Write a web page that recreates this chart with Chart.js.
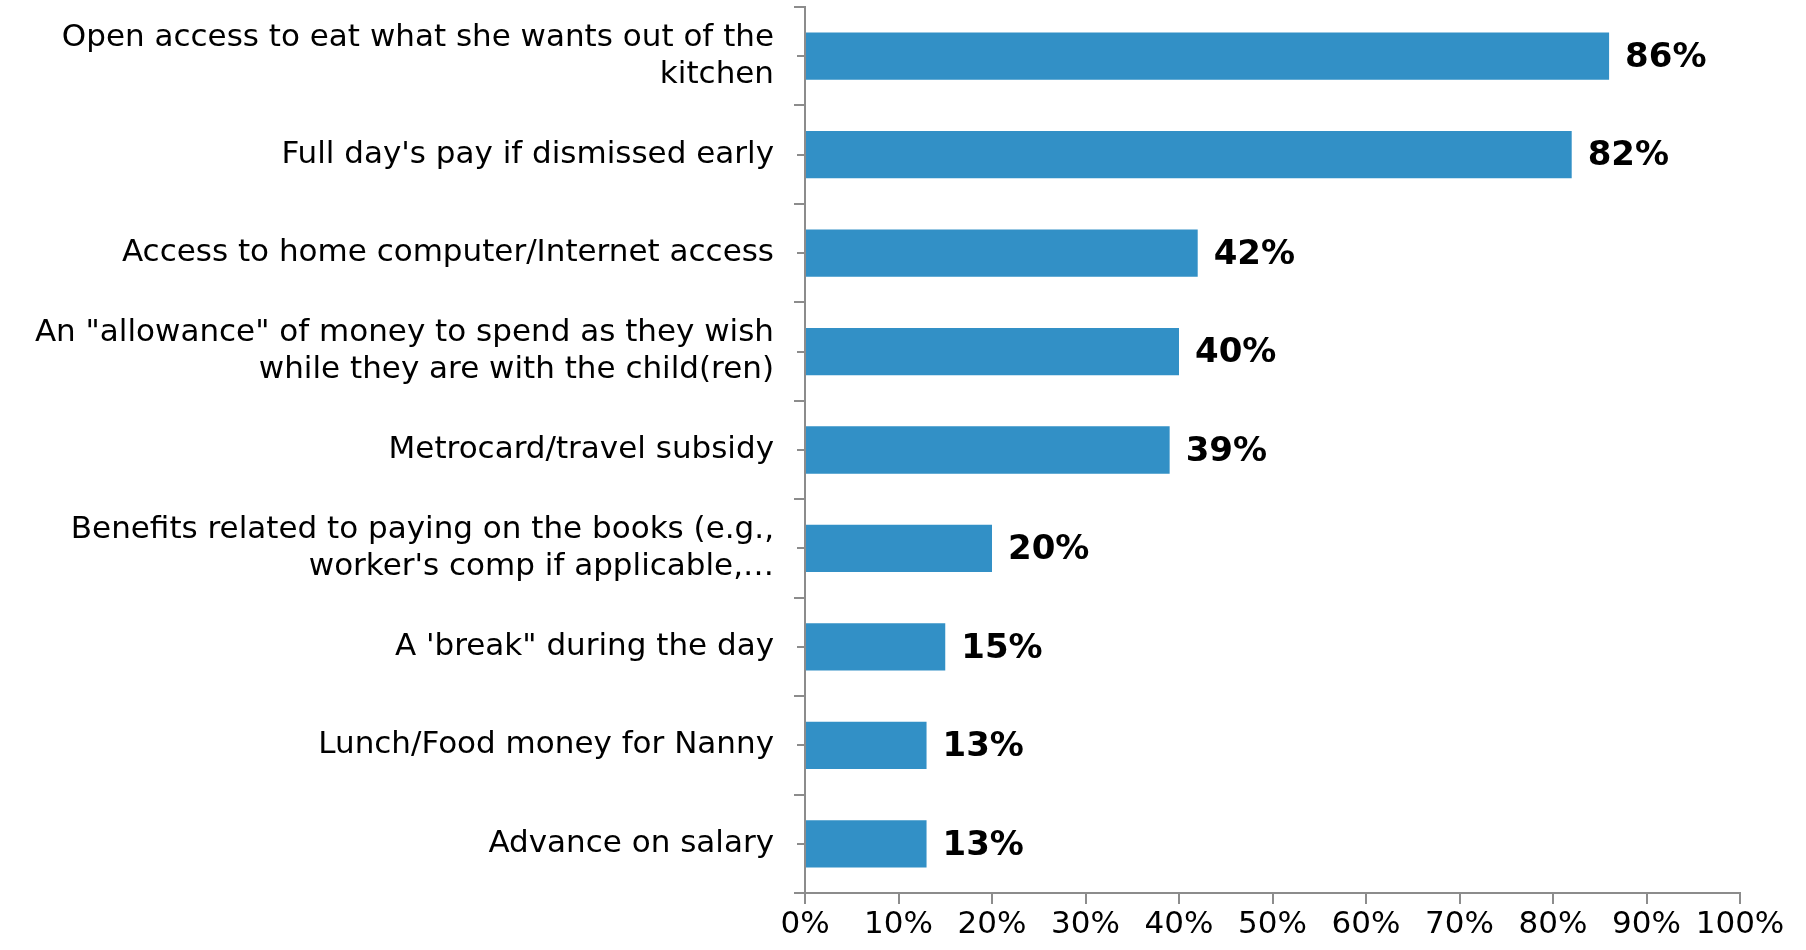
<!DOCTYPE html>
<html>
<head>
<meta charset="utf-8">
<script src="https://cdn.jsdelivr.net/npm/chart.js@4/dist/chart.umd.min.js"></script>
<style>
  body { margin: 0; background: #fff; }
  #wrap { width: 1806px; height: 950px; position: relative; }
</style>
</head>
<body>
<div id="wrap"><canvas id="chart"></canvas></div>
<script>
const categories = [
    ['Open access to eat what she wants out of the', 'kitchen'],
    "Full day's pay if dismissed early",
    'Access to home computer/Internet access',
    ['An "allowance" of money to spend as they wish', 'while they are with the child(ren)'],
    'Metrocard/travel subsidy',
    ['Benefits related to paying on the books (e.g.,', "worker's comp if applicable,\u2026"],
    'A \'break" during the day',
    'Lunch/Food money for Nanny',
    'Advance on salary'
]
const values = [86, 82, 42, 40, 39, 20, 15, 13, 13]
const xTicks = [0, 10, 20, 30, 40, 50, 60, 70, 80, 90, 100]

const axisGray = '#8c8c8c'
const barBlue = '#3290c6'
const fontName = '"DejaVu Sans", Verdana, sans-serif'

// value labels at the end of each bar
const valueLabels = {
    id: 'valueLabels',
    afterDatasetsDraw(chart) {
        const ctx = chart.ctx
        const meta = chart.getDatasetMeta(0)
        ctx.save()
        ctx.font = 'bold 34px ' + fontName
        ctx.fillStyle = '#000'
        ctx.textBaseline = 'middle'
        ctx.textAlign = 'left'
        meta.data.forEach((bar, i) => {
            ctx.fillText(values[i] + '%', bar.x + 16, bar.y + 2)
        })
        ctx.restore()
    }
}

// short ticks at the centre of every category, as in the original
const centerTicks = {
    id: 'centerTicks',
    afterDraw(chart) {
        const ctx = chart.ctx
        const y = chart.scales.y
        ctx.save()
        ctx.strokeStyle = axisGray
        ctx.lineWidth = 2
        for (let i = 0; i < categories.length; i++) {
            const py = Math.round(y.getPixelForValue(i))
            ctx.beginPath()
            ctx.moveTo(y.right - 8, py)
            ctx.lineTo(y.right, py)
            ctx.stroke()
        }
        ctx.restore()
    }
}

new Chart(document.getElementById('chart'), {
    type: 'bar',
    data: {
        labels: categories,
        datasets: [{
            data: values,
            backgroundColor: barBlue,
            borderWidth: 0,
            categoryPercentage: 1,
            barPercentage: 0.48
        }]
    },
    options: {
        indexAxis: 'y',
        responsive: true,
        maintainAspectRatio: false,
        animation: false,
        layout: { padding: { top: 7, right: 66, bottom: 0, left: 0 } },
        plugins: {
            legend: { display: false },
            tooltip: { enabled: false }
        },
        scales: {
            x: {
                min: 0,
                max: 100,
                afterBuildTicks: (s) => { s.ticks = xTicks.map(v => ({ value: v })) },
                afterFit: (s) => { s.height = 57 },
                border: { color: axisGray, width: 2 },
                grid: { drawOnChartArea: false, color: axisGray, lineWidth: 2, tickLength: 11 },
                ticks: {
                    color: '#000',
                    padding: 2,
                    autoSkip: false,
                    minRotation: 0,
                    maxRotation: 0,
                    font: { family: fontName, size: 31 },
                    callback: (v) => v + '%'
                }
            },
            y: {
                afterFit: (s) => {
                    s.width = 805
                    s.paddingTop = 0
                    s.paddingBottom = 0
                },
                border: { color: axisGray, width: 2 },
                grid: { offset: true, drawOnChartArea: false, color: axisGray, lineWidth: 2, tickLength: 11 },
                ticks: {
                    color: '#000',
                    padding: 20,
                    font: { family: fontName, size: 31, lineHeight: 1.2 }
                }
            }
        }
    },
    plugins: [valueLabels, centerTicks]
})
</script>
</body>
</html>
